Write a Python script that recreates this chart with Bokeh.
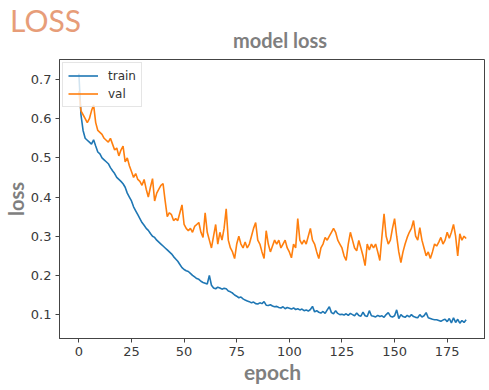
from bokeh.plotting import figure
from bokeh.layouts import column
from bokeh.models import Range1d, FixedTicker, Legend, LegendItem, PrintfTickFormatter, Div
from bokeh.embed import file_html
from bokeh.resources import INLINE

# ---- data ----
train_loss = [
    0.715, 0.61, 0.57, 0.55, 0.545, 0.54, 0.535, 0.546, 0.53, 0.515,
    0.51, 0.50, 0.495, 0.49, 0.485, 0.475, 0.467, 0.46, 0.45, 0.445,
    0.44, 0.434, 0.425, 0.41, 0.40, 0.39, 0.375, 0.365, 0.355, 0.345,
    0.335, 0.328, 0.32, 0.315, 0.307, 0.30, 0.297, 0.29, 0.285, 0.28,
    0.275, 0.27, 0.265, 0.26, 0.255, 0.248, 0.242, 0.236, 0.228, 0.22,
    0.215, 0.212, 0.21, 0.205, 0.20, 0.196, 0.192, 0.19, 0.185, 0.182,
    0.18, 0.178, 0.20, 0.175, 0.168, 0.166, 0.17, 0.168, 0.165, 0.167,
    0.166, 0.16, 0.158, 0.155, 0.15, 0.147, 0.143, 0.145, 0.14, 0.137,
    0.135, 0.133, 0.13, 0.132, 0.128, 0.127, 0.13, 0.128, 0.133, 0.124,
    0.123, 0.125, 0.122, 0.12, 0.121, 0.118, 0.117, 0.12, 0.115, 0.118,
    0.116, 0.114, 0.117, 0.113, 0.115, 0.112, 0.114, 0.11, 0.112, 0.109,
    0.113, 0.121, 0.107, 0.11, 0.106, 0.104, 0.108, 0.103, 0.112, 0.12,
    0.105, 0.102, 0.11, 0.103, 0.10, 0.101, 0.099, 0.102, 0.098, 0.103,
    0.10, 0.097, 0.104, 0.098, 0.096, 0.106, 0.097, 0.095, 0.11, 0.097,
    0.096, 0.094, 0.098, 0.095, 0.097, 0.093, 0.10, 0.105, 0.096, 0.094,
    0.097, 0.112, 0.09, 0.10, 0.095, 0.093, 0.098, 0.094, 0.10, 0.095,
    0.093, 0.092, 0.10, 0.094, 0.097, 0.105, 0.092, 0.09, 0.088, 0.087,
    0.087, 0.085, 0.083, 0.086, 0.088, 0.082, 0.09, 0.079, 0.092, 0.08,
    0.088, 0.078, 0.085, 0.08, 0.087,
]
val_loss = [
    0.67, 0.62, 0.61, 0.60, 0.59, 0.60, 0.62, 0.635, 0.59, 0.57,
    0.565, 0.56, 0.55, 0.545, 0.54, 0.55, 0.535, 0.52, 0.525, 0.505,
    0.52, 0.53, 0.49, 0.50, 0.48, 0.465, 0.45, 0.46, 0.445, 0.44,
    0.43, 0.445, 0.42, 0.40, 0.425, 0.447, 0.39, 0.41, 0.42, 0.43,
    0.434, 0.39, 0.35, 0.36, 0.355, 0.34, 0.345, 0.34, 0.36, 0.38,
    0.33, 0.32, 0.314, 0.32, 0.31, 0.325, 0.33, 0.335, 0.31, 0.297,
    0.36, 0.31, 0.29, 0.27, 0.30, 0.33, 0.28, 0.31, 0.29, 0.32,
    0.37, 0.29, 0.27, 0.26, 0.243, 0.28, 0.30, 0.28, 0.27, 0.285,
    0.27, 0.28, 0.30, 0.32, 0.335, 0.29, 0.28, 0.26, 0.243, 0.314,
    0.28, 0.26, 0.275, 0.29, 0.28, 0.29, 0.27, 0.28, 0.29, 0.27,
    0.26, 0.245, 0.28, 0.27, 0.345, 0.29, 0.28, 0.29, 0.28, 0.30,
    0.32, 0.29, 0.28, 0.26, 0.243, 0.27, 0.28, 0.297, 0.29, 0.30,
    0.31, 0.32, 0.31, 0.29, 0.28, 0.27, 0.25, 0.238, 0.28, 0.31,
    0.29, 0.27, 0.263, 0.289, 0.27, 0.25, 0.225, 0.28, 0.265, 0.28,
    0.27, 0.28, 0.26, 0.238, 0.30, 0.357, 0.30, 0.28, 0.29, 0.32,
    0.345, 0.30, 0.26, 0.233, 0.26, 0.28, 0.297, 0.31, 0.32, 0.34,
    0.30, 0.29, 0.322, 0.29, 0.27, 0.25, 0.26, 0.243, 0.26, 0.28,
    0.275, 0.285, 0.297, 0.28, 0.29, 0.31, 0.295, 0.31, 0.33, 0.30,
    0.25, 0.306, 0.29, 0.30, 0.294,
]
x_ticks = [0, 25, 50, 75, 100, 125, 150, 175]
y_ticks = [0.1, 0.2, 0.3, 0.4, 0.5, 0.6, 0.7]
series_names = ["train", "val"]
series_colors = ["#1f77b4", "#ff7f0e"]
page_title = "LOSS"
chart_title = "model loss"
x_label = "epoch"
y_label = "loss"

train_epochs = list(range(len(train_loss)))
val_epochs = list(range(len(val_loss)))

# ---- header strip holding the page heading and the chart title ----
header_html = (
    '<div style="position:relative;width:485px;height:52px;">'
    '<span style="position:absolute;left:10px;top:5px;font-family:Lato;font-size:30px;'
    'line-height:1;color:#E79D79;white-space:nowrap;">' + page_title + '</span>'
    '<span style="position:absolute;left:233px;top:30px;font-family:Lato;font-weight:bold;'
    'font-size:20px;line-height:1;color:#7f7f7f;white-space:nowrap;">' + chart_title + '</span>'
    '</div>'
)
header = Div(text=header_html, width=485, height=52, margin=0)

# ---- main chart ----
p = figure(width=485, height=334, output_backend="svg", toolbar_location=None,
           x_range=Range1d(-9.2, 193.2), y_range=Range1d(0.039, 0.751),
           min_border_left=53, min_border_right=0, min_border_top=7, min_border_bottom=48)
p.title.visible = False
p.background_fill_color = "white"
p.border_fill_color = "white"
p.outline_line_color = "#444444"
p.outline_line_width = 1
p.grid.visible = False

for ax in (p.xaxis[0], p.yaxis[0]):
    ax.axis_line_color = "#444444"
    ax.major_tick_line_color = "#444444"
    ax.major_tick_in = 0
    ax.major_tick_out = 4
    ax.minor_tick_line_color = None
    ax.major_label_text_font = "DejaVu Sans"
    ax.major_label_text_font_size = "13px"
    ax.major_label_text_color = "#3a3a3a"
    ax.major_label_standoff = 4
    ax.axis_label_text_font = "Lato"
    ax.axis_label_text_font_style = "bold"
    ax.axis_label_text_color = "#7f7f7f"
    ax.axis_label_standoff = 0
p.xaxis.ticker = FixedTicker(ticks=x_ticks)
p.yaxis.ticker = FixedTicker(ticks=y_ticks)
p.yaxis.formatter = PrintfTickFormatter(format="%.1f")
p.xaxis.axis_label = x_label
p.xaxis.axis_label_text_font_size = "21px"
p.yaxis.axis_label = y_label
p.yaxis.axis_label_text_font_size = "20px"

r_train = p.line(train_epochs, train_loss, line_color=series_colors[0], line_width=1.6)
r_val = p.line(val_epochs, val_loss, line_color=series_colors[1], line_width=1.6)

legend = Legend(items=[LegendItem(label=series_names[0], renderers=[r_train]),
                       LegendItem(label=series_names[1], renderers=[r_val])],
                location="top_left", margin=3, padding=5, spacing=3,
                glyph_width=30, glyph_height=15, label_height=15, label_standoff=10,
                label_text_font="DejaVu Sans", label_text_font_size="12px",
                label_text_color="#333333",
                border_line_color="#cccccc", border_line_width=1,
                background_fill_color="white", background_fill_alpha=0.8)
p.add_layout(legend)

layout = column(header, p, spacing=0)
open("out.html", "w").write(file_html(layout, INLINE))
